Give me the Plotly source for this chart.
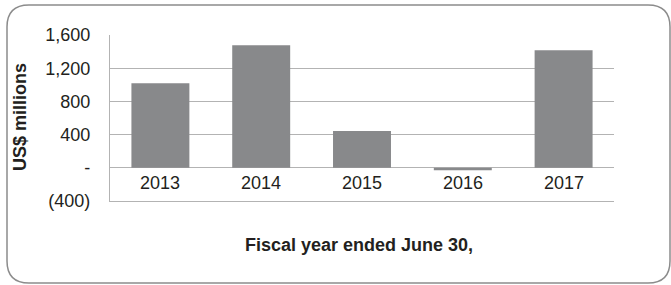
import plotly.graph_objects as go

years = ["2013", "2014", "2015", "2016", "2017"]
values = [1020, 1476, 444, -30, 1416]
tick_vals = [-400, 0, 400, 800, 1200, 1600]
tick_text = ["(400)", "-", "400", "800", "1,200", "1,600"]

W, H = 671, 285
L, R, T, B = 110, 57, 35, 84
pw, ph = W - L - R, H - T - B

def px(x):
    return (x - L) / pw

def py(y):
    return (H - B - y) / ph

font = "Liberation Sans, Arial, sans-serif"
textc = "#231f20"

fig = go.Figure()
fig.add_trace(go.Bar(x=years, y=values, marker_color="#88898b", width=0.575,
                     marker_line_width=0))

annotations = []
for i, yr in enumerate(years):
    annotations.append(dict(x=i, y=-185, xref="x", yref="y", text=yr, showarrow=False,
                            xanchor="center", yanchor="middle",
                            font=dict(family=font, size=18, color=textc)))
annotations.append(dict(x=px(20), y=py(117), xref="paper", yref="paper", text="<b>US$ millions</b>",
                        textangle=-90, showarrow=False, xanchor="center", yanchor="middle",
                        font=dict(family=font, size=18, color=textc)))
annotations.append(dict(x=px(359), y=py(245), xref="paper", yref="paper",
                        text="<b>Fiscal year ended June 30,</b>", showarrow=False,
                        xanchor="center", yanchor="middle",
                        font=dict(family=font, size=18, color=textc)))

# rounded border
x0, x1, y0, y1, r = 7, 670, 5, 283, 22
path = (f"M {px(x0+r)},{py(y0)} L {px(x1-r)},{py(y0)} Q {px(x1)},{py(y0)} {px(x1)},{py(y0+r)} "
        f"L {px(x1)},{py(y1-r)} Q {px(x1)},{py(y1)} {px(x1-r)},{py(y1)} "
        f"L {px(x0+r)},{py(y1)} Q {px(x0)},{py(y1)} {px(x0)},{py(y1-r)} "
        f"L {px(x0)},{py(y0+r)} Q {px(x0)},{py(y0)} {px(x0+r)},{py(y0)} Z")

fig.update_layout(
    width=W, height=H,
    margin=dict(l=L, r=R, t=T, b=B, autoexpand=False),
    paper_bgcolor="white", plot_bgcolor="white",
    showlegend=False,
    annotations=annotations,
    shapes=[dict(type="path", path=path, xref="paper", yref="paper",
                 line=dict(color="#8c8c8c", width=1.5), layer="below")],
    bargap=0.425,
)
fig.update_xaxes(type="category", range=[-0.5, 4.5], showticklabels=False, showgrid=False,
                 showline=True, linecolor="#b3b3b3", linewidth=1.3,
                 zeroline=False, ticks="", automargin=False)
fig.update_yaxes(range=[-400, 1600], tickvals=tick_vals, ticktext=tick_text,
                 showgrid=True, gridcolor="#b3b3b3", gridwidth=1.3,
                 zeroline=True, zerolinecolor="#b3b3b3", zerolinewidth=1.3,
                 showline=True, linecolor="#b3b3b3", linewidth=1.3,
                 ticks="", ticklabelstandoff=15, automargin=False,
                 tickfont=dict(family=font, size=18, color=textc))

fig.write_html("out.html", config={"displayModeBar": False},
               post_script="document.body.style.margin='0';document.body.style.overflow='hidden';")
